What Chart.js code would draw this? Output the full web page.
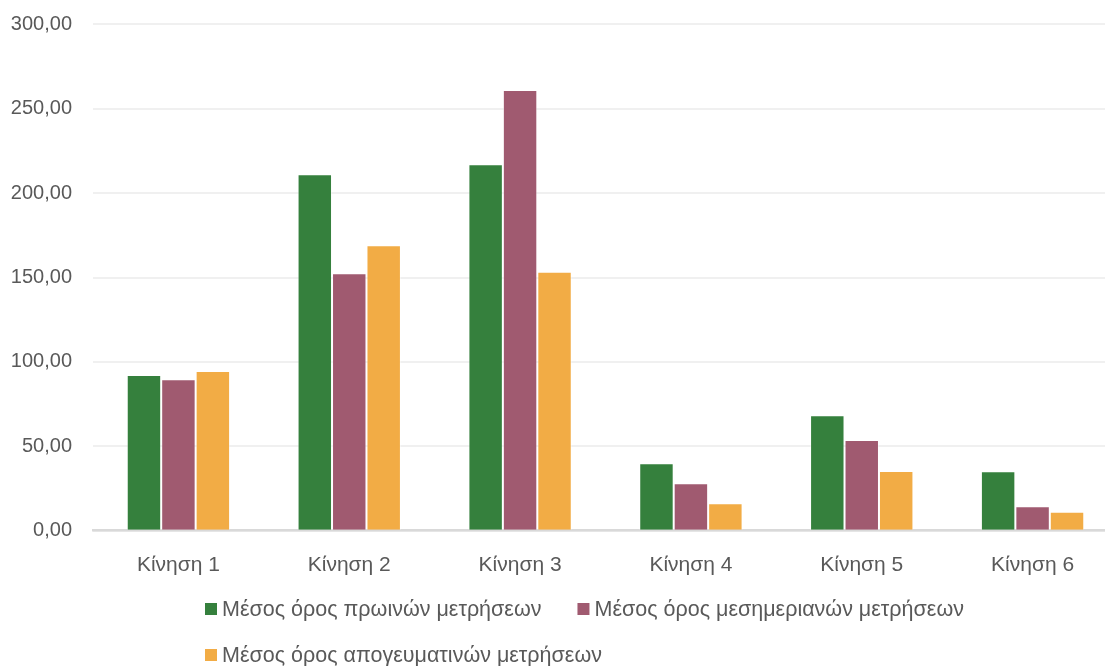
<!DOCTYPE html>
<html>
<head>
<meta charset="utf-8">
<script src="https://cdn.jsdelivr.net/npm/chart.js@4"></script>
<style>
  html, body { margin: 0; padding: 0; background: #fff; overflow: hidden; }
  #wrap { position: relative; width: 1118px; height: 666px; }
</style>
</head>
<body>
<div id="wrap"><canvas id="chart"></canvas></div>
<script>
// δεδομένα
const categories = ['Κίνηση 1', 'Κίνηση 2', 'Κίνηση 3', 'Κίνηση 4', 'Κίνηση 5', 'Κίνηση 6'];
const seriesNames = [
    'Μέσος όρος πρωινών μετρήσεων',
    'Μέσος όρος μεσημεριανών μετρήσεων',
    'Μέσος όρος απογευματινών μετρήσεων'
];
const morning = [92.2, 211.1, 217.1, 40.0, 68.4, 35.2];
const noon = [89.7, 152.5, 261.1, 28.1, 53.7, 14.5];
const afternoon = [94.6, 169.1, 153.4, 16.2, 35.4, 11.3];
const yMax = 300;
const yStep = 50;

const colors = ['#35803D', '#A05A70', '#F2AC45'];
const FONT = '"Liberation Sans", Arial, sans-serif';
const textColor = '#595959';

// legend drawn under the axis, rows aligned to the left like the original
const bottomLegend = {
    id: 'bottomLegend',
    afterDraw(chart) {
        const ctx = chart.ctx;
        const left = 205;
        ctx.save();
        ctx.font = '21.5px ' + FONT;
        ctx.textBaseline = 'middle';
        let x = left, y = 609;
        chart.data.datasets.forEach(ds => {
            const w = 17 + ctx.measureText(ds.label).width;
            if (x > left && x + w > 1000) { x = left; y += 46; }
            ctx.fillStyle = ds.backgroundColor;
            ctx.fillRect(x, y - 6, 12, 12);
            ctx.fillStyle = textColor;
            ctx.fillText(ds.label, x + 17, y + 1);
            x += w + 36;
        });
        ctx.restore();
    }
};

const values = [morning, noon, afternoon];

new Chart(document.getElementById('chart'), {
    type: 'bar',
    data: {
        labels: categories,
        datasets: values.map((v, i) => ({
            label: seriesNames[i],
            data: v,
            backgroundColor: colors[i],
            borderColor: 'rgba(255,255,255,0.45)',
            borderWidth: 1,
            categoryPercentage: 0.605,
            barPercentage: 1
        }))
    },
    options: {
        responsive: true,
        maintainAspectRatio: false,
        animation: false,
        layout: { padding: { top: 24.3, left: 0, right: 0, bottom: 0 } },
        plugins: {
            legend: { display: false },
            tooltip: { enabled: false }
        },
        scales: {
            x: {
                grid: { display: false },
                border: { display: true, color: '#D9D9D9', width: 2.5 },
                ticks: { color: textColor, font: { family: FONT, size: 21 }, padding: 14 },
                afterFit: s => { s.height = 666 - 530.7; }
            },
            y: {
                min: 0,
                max: yMax,
                grid: { color: '#F0F0F0', lineWidth: 2, drawTicks: false },
                border: { display: false },
                ticks: {
                    stepSize: yStep,
                    color: textColor,
                    padding: 21,
                    font: { family: FONT, size: 20 },
                    callback: v => v.toFixed(2).replace('.', ',')
                },
                afterFit: s => { s.width = 93; s.paddingTop = 0; s.paddingBottom = 0; }
            }
        }
    },
    plugins: [bottomLegend]
});
</script>
</body>
</html>
